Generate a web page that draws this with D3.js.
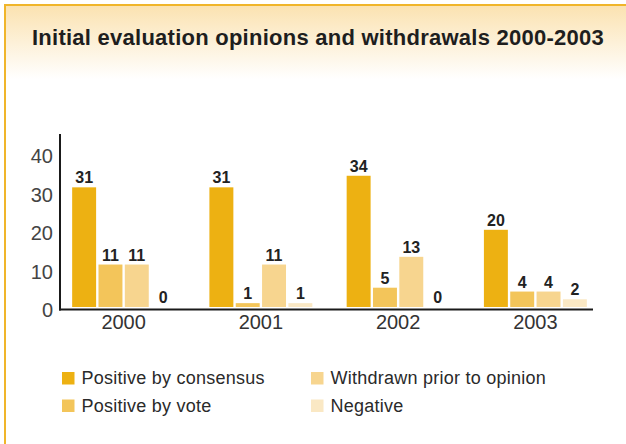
<!DOCTYPE html>
<html>
<head>
<meta charset="utf-8">
<script src="https://cdn.jsdelivr.net/npm/d3@7/dist/d3.min.js"></script>
<style>
  html, body { margin: 0; padding: 0; background: #fff; }
  svg { display: block; font-family: "Liberation Sans", Arial, Helvetica, sans-serif; }
</style>
</head>
<body>
<svg id="chart" width="626" height="444"></svg>
<script>
// Opinions issued per year, split by outcome
const years = ["2000", "2001", "2002", "2003"];
const seriesNames = ["Positive by consensus", "Positive by vote", "Withdrawn prior to opinion", "Negative"];
const consensus = [31, 31, 34, 20];
const vote = [11, 1, 5, 4];
const withdrawn = [11, 11, 13, 4];
const negative = [0, 1, 0, 2];
const yTicks = [0, 10, 20, 30, 40];
const colors = ["#edb112", "#f3c55a", "#f7d58f", "#fae8c4"];

const seriesValues = [consensus, vote, withdrawn, negative];
const rows = years.map((yr, i) => ({
  year: yr,
  values: seriesNames.map((s, k) => ({ key: s, value: seriesValues[k][i] }))
}));

const svg = d3.select("#chart");

// Header gradient and frame
const defs = svg.append("defs");
const grad = defs.append("linearGradient").attr("id", "hdr")
  .attr("x1", 0).attr("y1", 0).attr("x2", 0).attr("y2", 1);
grad.append("stop").attr("offset", "0%").attr("stop-color", "#fbe2b0");
grad.append("stop").attr("offset", "100%").attr("stop-color", "#ffffff");
svg.append("rect").attr("x", 5).attr("y", 5).attr("width", 621).attr("height", 74)
  .attr("fill", "url(#hdr)");
svg.append("line").attr("x1", 4).attr("x2", 626).attr("y1", 5).attr("y2", 5)
  .attr("stroke", "#f0b52a").attr("stroke-width", 2);
svg.append("line").attr("x1", 5).attr("x2", 5).attr("y1", 4).attr("y2", 444)
  .attr("stroke", "#f0b52a").attr("stroke-width", 2);

svg.append("text")
  .attr("x", 32).attr("y", 45)
  .attr("font-size", 22).attr("font-weight", "bold").attr("fill", "#1e1e1e")
  .attr("letter-spacing", 0.25)
  .text("Initial evaluation opinions and withdrawals 2000-2003");

// Scales
const x0 = d3.scaleBand().domain(years).range([55, 604])
  .paddingInner(0.25).paddingOuter(0.125);
const x1 = d3.scaleBand().domain(seriesNames).range([0, x0.bandwidth()])
  .paddingInner(0.09).paddingOuter(0);
const y = d3.scaleLinear().domain([0, 40]).range([307, 152.6]);
const color = d3.scaleOrdinal().domain(seriesNames).range(colors);

// Bars
const groups = svg.append("g").selectAll("g").data(rows).join("g")
  .attr("transform", d => `translate(${x0(d.year)},0)`);

groups.selectAll("rect").data(d => d.values).join("rect")
  .attr("x", d => x1(d.key))
  .attr("y", d => y(d.value))
  .attr("width", x1.bandwidth())
  .attr("height", d => y(0) - y(d.value))
  .attr("fill", d => color(d.key));

groups.selectAll("text").data(d => d.values).join("text")
  .attr("x", d => x1(d.key) + x1.bandwidth() / 2)
  .attr("y", d => y(d.value) - 4)
  .attr("text-anchor", "middle")
  .attr("font-size", 16).attr("font-weight", "bold").attr("fill", "#222")
  .text(d => d.value);

// Axes
const yAxis = svg.append("g").attr("transform", "translate(53,0)")
  .call(d3.axisLeft(y).tickValues(yTicks).tickSize(0).tickPadding(0));
yAxis.select(".domain").remove();
yAxis.selectAll("text")
  .attr("font-size", 20).attr("fill", "#444")
  .attr("font-family", "'Liberation Sans', Arial, sans-serif")
  .attr("dy", "0.34em")
  .attr("transform", "translate(0,3)");

svg.append("line").attr("x1", 60).attr("x2", 60).attr("y1", 134).attr("y2", y(0) + 3.5)
  .attr("stroke", "#1a1a1a").attr("stroke-width", 2);
svg.append("line").attr("x1", 59).attr("x2", 593).attr("y1", y(0) + 2.5).attr("y2", y(0) + 2.5)
  .attr("stroke", "#1a1a1a").attr("stroke-width", 2);

const xAxis = svg.append("g").attr("transform", `translate(0,${y(0) + 2.5})`)
  .call(d3.axisBottom(x0).tickSize(0).tickPadding(0));
xAxis.select(".domain").remove();
xAxis.selectAll("text")
  .attr("font-size", 20).attr("fill", "#333")
  .attr("font-family", "'Liberation Sans', Arial, sans-serif")
  .attr("dy", "0.98em");

// Legend
const legendPos = [[62, 372], [62, 399.5], [311, 372], [311, 399.5]];
const legend = svg.append("g").selectAll("g").data(seriesNames).join("g")
  .attr("transform", (d, i) => `translate(${legendPos[i][0]},${legendPos[i][1]})`);
legend.append("rect").attr("width", 12.5).attr("height", 12.5).attr("fill", d => color(d));
legend.append("text").attr("x", 19.5).attr("y", 12.3)
  .attr("font-size", 18).attr("letter-spacing", 0.25).attr("fill", "#2a2a2a")
  .text(d => d);
</script>
</body>
</html>
